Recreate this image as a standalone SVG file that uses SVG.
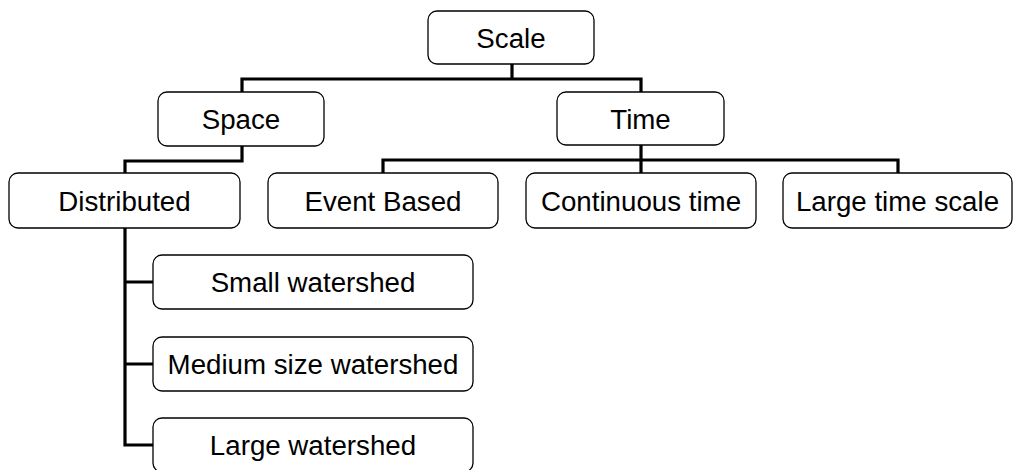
<svg xmlns="http://www.w3.org/2000/svg" width="1015" height="470" viewBox="0 0 1015 470">
  <style>
    .box { fill: #ffffff; stroke: #000000; stroke-width: 1.3; }
    .lbl { font-family: "Liberation Sans", Arial, sans-serif; font-size: 27.7px; fill: #000000; text-anchor: middle; }
    .wire { fill: none; stroke: #000000; stroke-width: 3.2; stroke-linejoin: miter; stroke-linecap: square; }
  </style>
  <rect width="1015" height="470" fill="#ffffff"/>

  <!-- tree connectors -->
  <g id="connectors">
    <path class="wire" d="M512 64 V79 M242 92 V79 H641 V92"/>
    <path class="wire" d="M242 146 V161 H125 V173"/>
    <path class="wire" d="M641 145 V173 M383 173 V160 H898 V173"/>
    <path class="wire" d="M125 228 V445 H153 M125 282 H153 M125 364 H153"/>
  </g>

  <g id="scale">
    <rect class="box" x="428" y="11" width="166" height="53" rx="9"/>
    <text class="lbl" x="511" y="47.5">Scale</text>
  </g>
  <g id="space">
    <rect class="box" x="158" y="92" width="166" height="54" rx="9"/>
    <text class="lbl" x="241" y="129">Space</text>
  </g>
  <g id="time">
    <rect class="box" x="557" y="92" width="167" height="53" rx="9"/>
    <text class="lbl" x="640.5" y="128.5">Time</text>
  </g>
  <g id="distributed">
    <rect class="box" x="9" y="173" width="231" height="55" rx="9"/>
    <text class="lbl" x="124.5" y="210.5">Distributed</text>
  </g>
  <g id="event-based">
    <rect class="box" x="268" y="173" width="230" height="55" rx="9"/>
    <text class="lbl" x="383" y="210.5">Event Based</text>
  </g>
  <g id="continuous-time">
    <rect class="box" x="526" y="173" width="230" height="55" rx="9"/>
    <text class="lbl" x="641" y="210.5">Continuous time</text>
  </g>
  <g id="large-time-scale">
    <rect class="box" x="783" y="173" width="229" height="55" rx="9"/>
    <text class="lbl" x="897.5" y="210.5">Large time scale</text>
  </g>
  <g id="small-watershed">
    <rect class="box" x="153" y="255" width="320" height="54" rx="9"/>
    <text class="lbl" x="313" y="292">Small watershed</text>
  </g>
  <g id="medium-watershed">
    <rect class="box" x="153" y="337" width="320" height="54" rx="9"/>
    <text class="lbl" x="313" y="374">Medium size watershed</text>
  </g>
  <g id="large-watershed">
    <rect class="box" x="153" y="418" width="320" height="54" rx="9"/>
    <text class="lbl" x="313" y="455">Large watershed</text>
  </g>
</svg>
